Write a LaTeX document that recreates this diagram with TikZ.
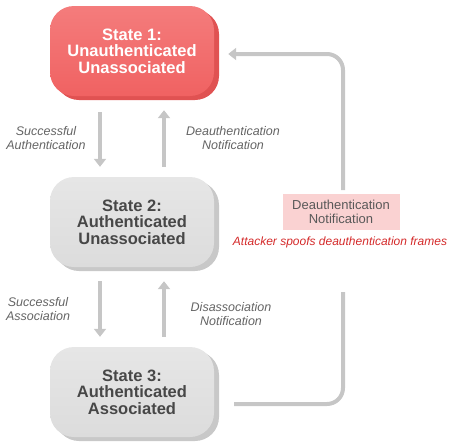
\documentclass[tikz,border=0pt]{standalone}
\usepackage{fontspec}
\setmainfont{Liberation Sans}
\usetikzlibrary{arrows.meta,shadows}

\definecolor{redface}{HTML}{F06262}
\definecolor{redtop}{HTML}{F47C7C}
\definecolor{rededge}{HTML}{E05252}
\definecolor{greyface}{HTML}{DCDCDC}
\definecolor{greytop}{HTML}{E6E6E6}
\definecolor{greyedge}{HTML}{C8C8C8}
\definecolor{flowgrey}{HTML}{C6C6C6}
\definecolor{lblgrey}{HTML}{646464}
\definecolor{spoofred}{HTML}{D42A2A}
\definecolor{pinkbox}{HTML}{FAD2D2}

\begin{document}
\begin{tikzpicture}[x=1pt,y=-1pt,
    state/.style={rounded corners=24pt, minimum width=164pt, minimum height=90pt,
        align=center, font=\fontsize{16.5}{16.5}\selectfont\bfseries, inner sep=0pt},
    greystate/.style={state, top color=greytop, bottom color=greyface, text=black!72,
        general shadow={fill=greyedge, shadow xshift=5pt, shadow yshift=-4pt}},
    redstate/.style={state, top color=redtop, bottom color=redface, text=white,
        general shadow={fill=rededge, shadow xshift=5pt, shadow yshift=-4pt}},
    flow/.style={draw=flowgrey, line width=4pt,
        -{Triangle[width=12pt,length=8pt]}},
    lbl/.style={align=center, text=lblgrey, font=\fontsize{12.5}{14}\selectfont\itshape}]
    \useasboundingbox (0,0) rectangle (451,445);

    % states
    \node[redstate]  (s1) at (132,51)  {State 1:\\Unauthenticated\\Unassociated};
    \node[greystate] (s2) at (132,222) {State 2:\\Authenticated\\Unassociated};
    \node[greystate] (s3) at (132,392) {State 3:\\Authenticated\\Associated};

    % transitions between neighbours
    \draw[flow, shorten <=16pt, shorten >=10pt] ([xshift=-32pt]s1.south) -- ([xshift=-32pt]s2.north);
    \draw[flow, shorten <=10pt, shorten >=14pt] ([xshift=32pt]s2.north) -- ([xshift=32pt]s1.south);
    \draw[flow, shorten <=14pt, shorten >=10pt] ([xshift=-32pt]s2.south) -- ([xshift=-32pt]s3.north);
    \draw[flow, shorten <=10pt, shorten >=14pt] ([xshift=32pt]s3.north) -- ([xshift=32pt]s2.south);

    \node[lbl] (authlbl)     at (46,138)  {Successful\\Authentication};
    \node[lbl] (deauthlbl)   at (233,138) {Deauthentication\\Notification};
    \node[lbl] (assoclbl)    at (38,309)  {Successful\\Association};
    \node[lbl] (disassoclbl) at (231,314) {Disassociation\\Notification};

    % attack path
    \node[fill=pinkbox, text=black!65, minimum width=117pt, minimum height=36pt, inner sep=0pt,
        align=center, font=\fontsize{13}{14}\selectfont] (deauthbox) at (341,212)
        {Deauthentication\\Notification};
    \node[text=spoofred, font=\fontsize{12}{14}\selectfont\itshape] (spoof) at (340,242)
        {Attacker spoofs deauthentication frames};

    \coordinate (gaplow)  at (343,292);
    \coordinate (gaphigh) at (343,190);
    \draw[draw=flowgrey, line width=4pt, rounded corners=16pt]
        ([xshift=20pt,yshift=-12pt]s3.east) -| (gaplow);
    \draw[flow, rounded corners=16pt] (gaphigh) |- ([xshift=14pt,yshift=-3pt]s1.east);
\end{tikzpicture}
\end{document}
